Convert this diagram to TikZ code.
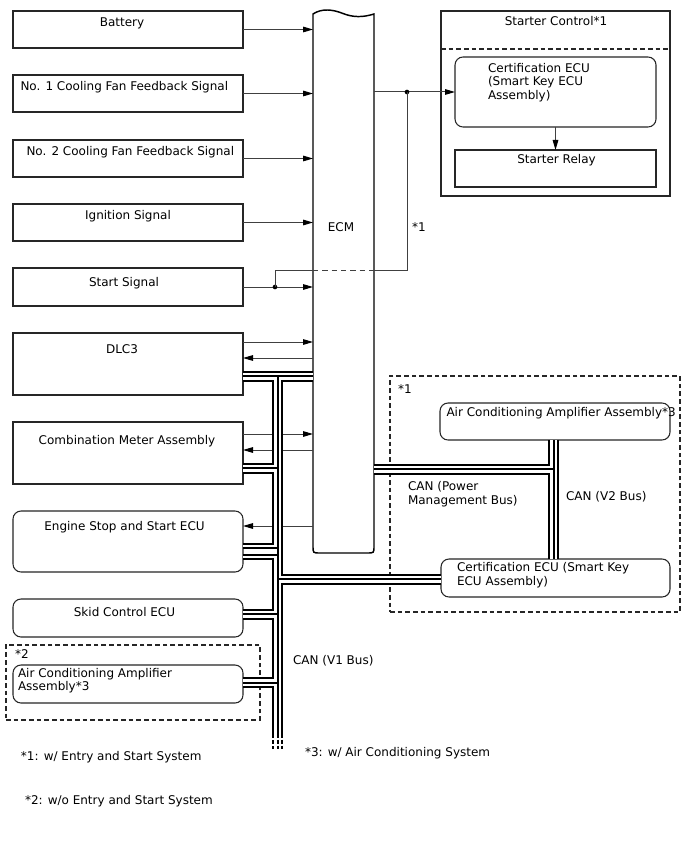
\documentclass[tikz,border=0pt]{standalone}
\usepackage{fontspec}
\setmainfont{DejaVu Sans}
\usetikzlibrary{arrows.meta}
\begin{document}
\begin{tikzpicture}[x=0.75pt,y=-0.75pt,
  every node/.style={font=\fontsize{9}{10}\selectfont, inner sep=0pt, outer sep=0pt},
  box/.style={draw=black!85, line width=0.8pt, inner sep=0pt, outer sep=0pt, anchor=north west},
  rbox/.style={box, rounded corners=6pt},
  sz/.style 2 args={minimum width=#1*0.75pt, minimum height=#2*0.75pt},
  sig/.style={draw=black!75, line width=0.75pt},
  arr/.style={sig, -{Triangle[length=7.5pt,width=4.2pt,color=black]}},
  bus/.style={draw=black, line width=1.725pt, double=white, double distance=1.65pt},
  busend/.style={bus, dash pattern=on 3pt off 1.5pt},
  dbox/.style={draw=black!85, line width=0.8pt, dash pattern=on 3.5pt off 2.25pt},
  lbl/.style={anchor=base},
  lblw/.style={anchor=base west},
  jdot/.style={circle, fill=black, minimum size=3.5pt, inner sep=0pt}
]
\fill[white] (0,0) rectangle (688,852);
\useasboundingbox (0,0) rectangle (688,852);

% dashed group boxes
\node[dbox, anchor=north west, sz={290}{236}] (g1) at (390,376) {};
\node[dbox, anchor=north west, sz={254}{75}] (g2) at (6,645) {};

% left boxes
\node[box, sz={230}{37}] (bat) at (13,11) {};
\node[box, sz={230}{37}] (fan1) at (13,75) {};
\node[box, sz={230}{37}] (fan2) at (13,140) {};
\node[box, sz={230}{37}] (ign) at (13,204) {};
\node[box, sz={230}{38}] (sta) at (13,268) {};
\node[box, sz={230}{62}] (dlc) at (13,333) {};
\node[box, sz={230}{62}] (cmb) at (13,422) {};
\node[rbox, sz={230}{61}] (ess) at (13,511) {};
\node[rbox, sz={230}{38}] (skd) at (13,599) {};
\node[rbox, sz={230}{38}] (acl) at (13,665) {};

% right boxes
\node[box, line width=1pt, sz={229}{185}] (stc) at (441,11) {};
\draw[dbox] (stc.west |- 0,49) -- (stc.east |- 0,49);
\node[rbox, sz={201}{70}] (cert1) at (455,57) {};
\node[box, sz={201}{37}] (rel) at (455,150) {};
\node[rbox, sz={230}{37}] (acr) at (440,403) {};
\node[rbox, sz={229}{38}] (cert2) at (441,559) {};

% ECM
\node[anchor=north west, sz={61}{539}] (ecm) at (313,14) {};
\draw[line width=1.1pt] (313,14) .. controls (322,8) and (333,9.5) .. (343,13.5)
  .. controls (353,17.5) and (363,17.5) .. (374,14) -- (374,546)
  .. controls (374,553) .. (367,553) -- (320,553)
  .. controls (313,553) .. (313,546) -- cycle;

% texts
\node[lbl] (tbat) at (122,26.5) {Battery};
\node[lblw] (tf1) at (20.5,90.5) {No. 1 Cooling Fan Feedback Signal};
\node[lblw] (tf2) at (26.5,155.5) {No. 2 Cooling Fan Feedback Signal};
\node[lbl] (tign) at (128,219.5) {Ignition Signal};
\node[lbl] (tsta) at (124,286.5) {Start Signal};
\node[lbl] (tdlc) at (122,353) {DLC3};
\node[lbl] (tcmb) at (127,444) {Combination Meter Assembly};
\node[lbl] (tess) at (124.5,530) {Engine Stop and Start ECU};
\node[lbl] (tskd) at (124.5,616.5) {Skid Control ECU};
\node[lblw] (tacl1) at (18,677.3) {Air Conditioning Amplifier};
\node[lblw] (tacl2) at (18,690) {Assembly*3};
\node[lblw] (t2) at (15,658) {*2};
\node[lbl] (tecm) at (341,232) {ECM};
\node[lblw] (ts1) at (412,232) {*1};
\node[lbl] (tstc) at (556,26) {Starter Control*1};
\node[lblw] (tc1a) at (488,72.5) {Certification ECU};
\node[lblw] (tc1b) at (488,86) {(Smart Key ECU};
\node[lblw] (tc1c) at (488,99.5) {Assembly)};
\node[lbl] (trel) at (556.5,163.3) {Starter Relay};
\node[lblw] (tg1) at (398,393.3) {*1};
\node[lblw] (tacr) at (446.5,416.7) {Air Conditioning Amplifier Assembly*3};
\node[lblw] (tpm1) at (408,490.7) {CAN (Power};
\node[lblw] (tpm2) at (408,504.3) {Management Bus)};
\node[lblw] (tv2) at (566,500) {CAN (V2 Bus)};
\node[lblw] (tc2a) at (457,571.7) {Certification ECU (Smart Key};
\node[lblw] (tc2b) at (457,585) {ECU Assembly)};
\node[lblw] (tv1) at (293,664) {CAN (V1 Bus)};
\node[lblw] (tn1) at (21,760) {*1: w/ Entry and Start System};
\node[lblw] (tn3) at (305,756) {*3: w/ Air Conditioning System};
\node[lblw] (tn2) at (25,804) {*2: w/o Entry and Start System};

% signal lines
\draw[arr] (bat.east) -- (bat.east -| ecm.west);
\draw[arr] (fan1.east) -- (fan1.east -| ecm.west);
\draw[arr] (fan2.east) -- (fan2.east -| ecm.west);
\draw[arr] (ign.east) -- (ign.east -| ecm.west);
\draw[arr] (sta.east) -- (sta.east -| ecm.west);
\draw[arr] (dlc.east |- 0,342) -- (ecm.west |- 0,342);
\draw[arr] (ecm.west |- 0,358) -- (dlc.east |- 0,358);
\draw[arr] (cmb.east |- 0,434) -- (ecm.west |- 0,434);
\draw[arr] (ecm.west |- 0,450) -- (cmb.east |- 0,450);
\draw[arr] (ecm.west |- 0,526) -- (ess.east |- 0,526);
\draw[arr] (ecm.east |- 0,92) -- (cert1.west |- 0,92);
\draw[arr] (cert1.south) -- (rel.north);

\node[jdot] (j1) at (407,92) {};
\node[jdot] (j2) at (275,287) {};
\draw[sig] (j2.center) |- (ecm.west |- 0,270);
\draw[sig, dash pattern=on 4pt off 3pt] (ecm.west |- 0,270) -- (ecm.east |- 0,270);
\draw[sig] (ecm.east |- 0,270) -| (j1.center);

% CAN buses
\draw[bus] (dlc.east |- 0,374) -- (ecm.west |- 0,374);
\draw[bus] (ecm.west |- 0,378.5) -| (280,577) -- (cert2.west |- 0,577);
\draw[bus] (cert2.west |- 0,581.5) -| (280,738);
\draw[bus] (dlc.east |- 0,378.5) -| (275.5,466) -- (cmb.east |- 0,466);
\draw[bus] (cmb.east |- 0,470.5) -| (275.5,546) -- (ess.east |- 0,546);
\draw[bus] (ess.east |- 0,557) -| (275.5,612) -- (skd.east |- 0,612);
\draw[bus] (skd.east |- 0,616.5) -| (275.5,680.5) -- (acl.east |- 0,680.5);
\draw[bus] (acl.east |- 0,685) -| (275.5,738);
\draw[busend] (275.5,739.5) -- (275.5,749);
\draw[busend] (280,739.5) -- (280,749);
\draw[bus] (ecm.east |- 0,467) -| (acr.south -| 551.5,0);
\draw[bus] (ecm.east |- 0,471.5) -| (cert2.north -| 551.5,0);
\draw[bus] (acr.south -| 556,0) -- (cert2.north -| 556,0);
\end{tikzpicture}
\end{document}
